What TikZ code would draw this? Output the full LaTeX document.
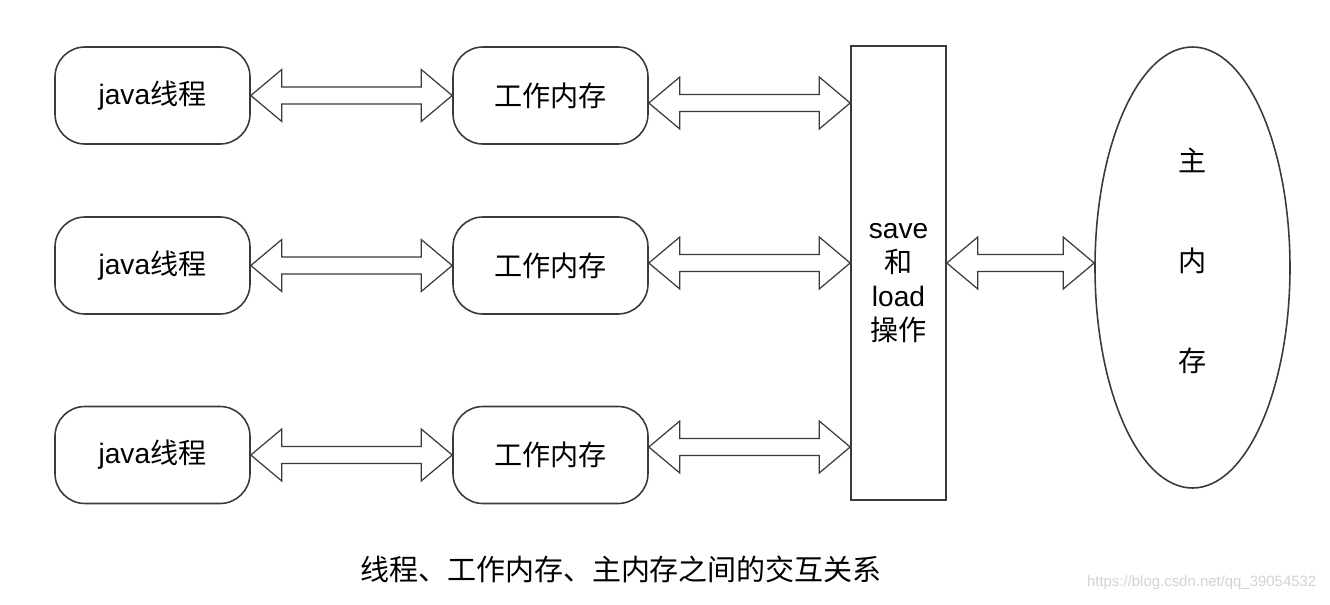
\documentclass[tikz,border=0pt]{standalone}
\usepackage{fontspec}
\setmainfont{Liberation Sans}
\newfontfamily\cjk{Noto Sans CJK SC}
\usetikzlibrary{positioning, calc, shapes.geometric}
\definecolor{lnc}{RGB}{58,58,58}

% hollow double-headed arrow, from #1 to the x of #2 (y taken from #1)
\newcommand{\dblarr}[2]{%
  \draw[dar] let \p1=#1, \p2=#2 in
    (\x1,\y1) -- ++(0.62,0.52) -- ++(0,-0.35) -- ({\x2-0.62cm},{\y1+0.17cm})
    -- ({\x2-0.62cm},{\y1+0.52cm}) -- (\x2,\y1) -- ({\x2-0.62cm},{\y1-0.52cm})
    -- ({\x2-0.62cm},{\y1-0.17cm}) -- ({\x1+0.62cm},{\y1-0.17cm})
    -- ({\x1+0.62cm},{\y1-0.52cm}) -- cycle;}

\begin{document}
\begin{tikzpicture}[font=\fontsize{16}{19}\selectfont,
          thr/.style={draw=lnc, line width=0.9pt, rounded corners=6mm,
                      minimum width=3.9cm, minimum height=1.94cm},
          mem/.style={thr},
          op/.style ={draw=lnc, line width=0.9pt, minimum width=1.9cm,
                      minimum height=9.08cm, align=center, inner sep=0pt},
          mm/.style ={ellipse, draw=lnc, line width=0.9pt, minimum width=3.9cm,
                      minimum height=8.82cm, align=center, inner sep=0pt},
          dar/.style={draw=lnc, line width=0.7pt, fill=white, line join=miter}]
        \useasboundingbox (0,0) rectangle (26.6,12.08);
        \node[thr] (j1) at (3.05,10.17) {java{\cjk 线程}};
        \node[thr] (j2) at (3.05,6.77)  {java{\cjk 线程}};
        \node[thr] (j3) at (3.05,2.98)  {java{\cjk 线程}};
        \node[mem] (w1) at (11.01,10.17) {\cjk 工作内存};
        \node[mem] (w2) at (11.01,6.77)  {\cjk 工作内存};
        \node[mem] (w3) at (11.01,2.98)  {\cjk 工作内存};
        \node[op]  (sl) at (17.97,6.62)
          {\mbox{}\\[1pt]save\\[0.5pt]{\cjk 和}\\[0.5pt]load\\[0.5pt]{\cjk 操作}};
        \node[mm]  (mn) at (23.85,6.73)
          {\cjk 主\\[1.33cm]\cjk 内\\[1.33cm]\cjk 存\\[-10pt]\mbox{}};
        % thread <-> working memory
        \dblarr{(j1.east)}{(w1.west)}
        \dblarr{(j2.east)}{(w2.west)}
        \dblarr{(j3.east)}{(w3.west)}
        % working memory <-> save/load
        \dblarr{([yshift=-0.15cm]w1.east)}{(sl.west)}
        \dblarr{([yshift=0.05cm]w2.east)}{(sl.west)}
        \dblarr{([yshift=0.16cm]w3.east)}{(sl.west)}
        % save/load <-> main memory
        \dblarr{([yshift=0.2cm]sl.east)}{(mn.west)}
        \node (cap) at (12.42,0.70) {\cjk\fontsize{16.5}{19}\selectfont 线程、工作内存、主内存之间的交互关系};
        \node[anchor=east, text=gray!35, font=\fontsize{8.5}{10}\selectfont] (wm) at (26.45,0.42)
          {https://blog.csdn.net/qq\_39054532};
      \end{tikzpicture}
\end{document}
